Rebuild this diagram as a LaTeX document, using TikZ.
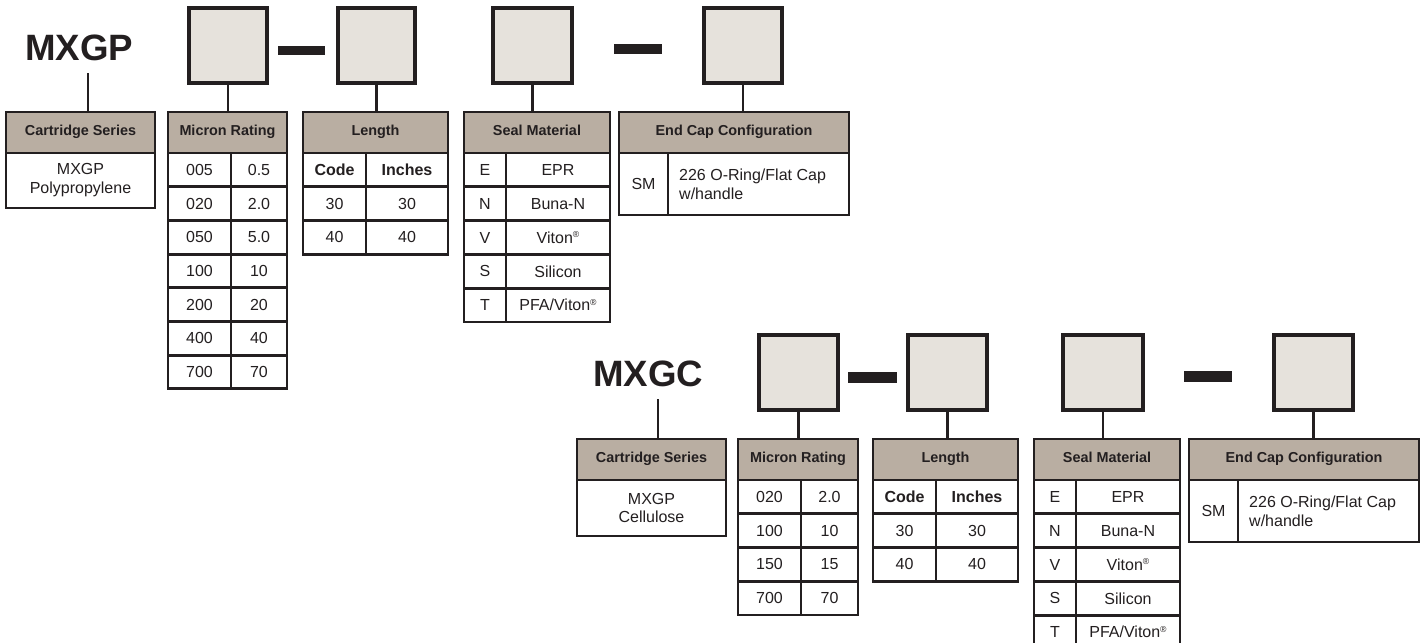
\documentclass[tikz,border=0pt]{standalone}
\usepackage{fontspec}
\setmainfont{Liberation Sans}
\usetikzlibrary{fit}
\definecolor{ink}{HTML}{231F20}
\definecolor{hdrfill}{HTML}{B9AEA2}
\definecolor{boxfill}{HTML}{E6E2DC}
\newcommand\tcell[7]{%
  \pgfmathsetlengthmacro\cellw{(#4-#2)*0.75pt}%
  \pgfmathsetlengthmacro\cellh{(#5-#3)*0.75pt}%
  \node[#6, anchor=north west, minimum width=\cellw, minimum height=\cellh] (#1) at (#2,#3) {#7};}
\newcommand\regmark{\raisebox{0.62ex}{\fontsize{6.5}{6.5}\selectfont ®}}
\begin{document}
\begin{tikzpicture}[x=0.75pt,y=-0.75pt,
  cellbase/.style={draw=ink, line width=2.2pt, inner sep=0pt, outer sep=0pt, text=ink, align=center},
  hdr/.style={cellbase, fill=hdrfill, font=\fontsize{10.8}{13}\selectfont\bfseries, text height=0.74em, text depth=0.22em},
  body/.style={cellbase, fill=white, font=\fontsize{12}{14.2}\selectfont},
  bodyb/.style={body, font=\fontsize{12}{14.2}\selectfont\bfseries},
  codebox/.style={draw=ink, line width=2.4pt, fill=boxfill, inner sep=0pt},
  dashbar/.style={fill=ink, draw=none, inner sep=0pt},
  stem/.style={draw=ink, line width=2pt},
  title/.style={font=\fontsize{27.5}{30}\selectfont\bfseries, text=ink, inner sep=0pt, anchor=base west},
  freetext/.style={font=\fontsize{12}{14}\selectfont, text=ink, inner sep=0pt, align=left, anchor=west}]
\useasboundingbox (0,0) rectangle (1422,643);

% ================= TOP (MXGP) =================
\node[title] (t1) at (25,60) {MXGP};
\coordinate (t1s) at (88,73);

\node[codebox, fit={(189,8)(267,83)}] (b1) {};
\node[dashbar, fit={(278,46)(325,55)}] (d1) {};
\node[codebox, fit={(338,8)(415,83)}] (b2) {};
\node[codebox, fit={(493,8)(572,83)}] (b3) {};
\node[dashbar, fit={(614,44)(662,54)}] (d2) {};
\node[codebox, fit={(704,8)(782,83)}] (b4) {};

% Cartridge series
\tcell{cs1h}{6}{112}{155}{153}{hdr}{Cartridge Series}
\tcell{cs1b}{6}{153}{155}{208}{body}{MXGP\\Polypropylene}

% Micron rating
\tcell{mr1h}{168}{112}{287}{153}{hdr}{Micron Rating}
\foreach \a/\b [count=\i] in {005/0.5,020/2.0,050/5.0,100/10,200/20,400/40,700/70}{
  \pgfmathsetmacro\ya{153+(\i-1)*33.7}
  \pgfmathsetmacro\yb{\ya+33.7}
  \tcell{mr1a\i}{168}{\ya}{231}{\yb}{body}{\a}
  \tcell{mr1b\i}{231}{\ya}{287}{\yb}{body}{\b}
}

% Length
\tcell{ln1h}{303}{112}{448}{153}{hdr}{Length}
\tcell{ln1a1}{303}{153}{366}{186.7}{bodyb}{Code}
\tcell{ln1b1}{366}{153}{448}{186.7}{bodyb}{Inches}
\foreach \a/\b [count=\i from 2] in {30/30,40/40}{
  \pgfmathsetmacro\ya{153+(\i-1)*33.7}
  \pgfmathsetmacro\yb{\ya+33.7}
  \tcell{ln1a\i}{303}{\ya}{366}{\yb}{body}{\a}
  \tcell{ln1b\i}{366}{\ya}{448}{\yb}{body}{\b}
}

% Seal material
\tcell{sm1h}{464}{112}{610}{153}{hdr}{Seal Material}
\foreach \a/\b [count=\i] in {E/EPR,N/Buna-N,V/{Viton\regmark},S/Silicon,T/{PFA/Viton\regmark}}{
  \pgfmathsetmacro\ya{153+(\i-1)*33.8}
  \pgfmathsetmacro\yb{\ya+33.8}
  \tcell{sm1a\i}{464}{\ya}{506}{\yb}{body}{\a}
  \tcell{sm1b\i}{506}{\ya}{610}{\yb}{body}{\b}
}

% End cap
\tcell{ec1h}{619}{112}{849}{153}{hdr}{End Cap Configuration}
\tcell{ec1a}{619}{153}{668}{215}{body}{SM}
\tcell{ec1b}{668}{153}{849}{215}{body}{}
\node[freetext] (ec1t) at ([xshift=8.2pt]ec1b.west) {226 O-Ring/Flat Cap\\w/handle};

% stems
\draw[stem] (t1s) -- (t1s |- cs1h.north);
\draw[stem] (b1.south) -- (b1.south |- mr1h.north);
\draw[stem] (b2.south) -- (b2.south |- ln1h.north);
\draw[stem] (b3.south) -- (b3.south |- sm1h.north);
\draw[stem] (b4.south) -- (b4.south |- ec1h.north);

% ================= BOTTOM (MXGC) =================
\node[title] (t2) at (593,386) {MXGC};
\coordinate (t2s) at (658,399);

\node[codebox, fit={(759,335)(838,410)}] (c1) {};
\node[dashbar, fit={(848,372)(897,383)}] (e1) {};
\node[codebox, fit={(908,335)(987,410)}] (c2) {};
\node[codebox, fit={(1063,335)(1143,410)}] (c3) {};
\node[dashbar, fit={(1184,371)(1232,382)}] (e2) {};
\node[codebox, fit={(1274,335)(1353,410)}] (c4) {};

\tcell{cs2h}{577}{439}{726}{480}{hdr}{Cartridge Series}
\tcell{cs2b}{577}{480}{726}{536}{body}{MXGP\\Cellulose}

\tcell{mr2h}{738}{439}{858}{480}{hdr}{Micron Rating}
\foreach \a/\b [count=\i] in {020/2.0,100/10,150/15,700/70}{
  \pgfmathsetmacro\ya{480+(\i-1)*33.75}
  \pgfmathsetmacro\yb{\ya+33.75}
  \tcell{mr2a\i}{738}{\ya}{801}{\yb}{body}{\a}
  \tcell{mr2b\i}{801}{\ya}{858}{\yb}{body}{\b}
}

\tcell{ln2h}{873}{439}{1018}{480}{hdr}{Length}
\tcell{ln2a1}{873}{480}{936}{513.7}{bodyb}{Code}
\tcell{ln2b1}{936}{480}{1018}{513.7}{bodyb}{Inches}
\foreach \a/\b [count=\i from 2] in {30/30,40/40}{
  \pgfmathsetmacro\ya{480+(\i-1)*33.7}
  \pgfmathsetmacro\yb{\ya+33.7}
  \tcell{ln2a\i}{873}{\ya}{936}{\yb}{body}{\a}
  \tcell{ln2b\i}{936}{\ya}{1018}{\yb}{body}{\b}
}

\tcell{sm2h}{1034}{439}{1180}{480}{hdr}{Seal Material}
\foreach \a/\b [count=\i] in {E/EPR,N/Buna-N,V/{Viton\regmark},S/Silicon,T/{PFA/Viton\regmark}}{
  \pgfmathsetmacro\ya{480+(\i-1)*33.8}
  \pgfmathsetmacro\yb{\ya+33.8}
  \tcell{sm2a\i}{1034}{\ya}{1076}{\yb}{body}{\a}
  \tcell{sm2b\i}{1076}{\ya}{1180}{\yb}{body}{\b}
}

\tcell{ec2h}{1189}{439}{1419}{480}{hdr}{End Cap Configuration}
\tcell{ec2a}{1189}{480}{1238}{542}{body}{SM}
\tcell{ec2b}{1238}{480}{1419}{542}{body}{}
\node[freetext] (ec2t) at ([xshift=8.2pt]ec2b.west) {226 O-Ring/Flat Cap\\w/handle};

\draw[stem] (t2s) -- (t2s |- cs2h.north);
\draw[stem] (c1.south) -- (c1.south |- mr2h.north);
\draw[stem] (c2.south) -- (c2.south |- ln2h.north);
\draw[stem] (c3.south) -- (c3.south |- sm2h.north);
\draw[stem] (c4.south) -- (c4.south |- ec2h.north);
\end{tikzpicture}
\end{document}
